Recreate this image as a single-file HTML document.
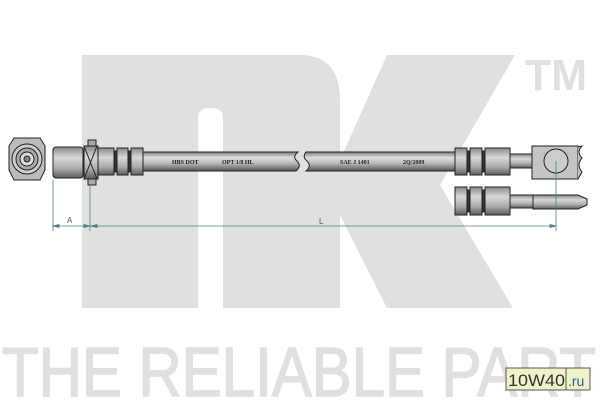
<!DOCTYPE html>
<html><head><style>
html,body{margin:0;padding:0;background:#fff;width:600px;height:400px;overflow:hidden}
svg{display:block}
</style></head><body>
<svg width="600" height="400" viewBox="0 0 600 400" xmlns="http://www.w3.org/2000/svg">
<defs>
<linearGradient id="g" x1="0" y1="0" x2="0" y2="1">
<stop offset="0" stop-color="#7a7a7a"/><stop offset="0.3" stop-color="#dedede"/><stop offset="0.6" stop-color="#b8b8b8"/><stop offset="1" stop-color="#555"/>
</linearGradient>
<linearGradient id="h" x1="0" y1="0" x2="0" y2="1">
<stop offset="0" stop-color="#8a8a8a"/><stop offset="0.35" stop-color="#d8d8d8"/><stop offset="0.7" stop-color="#aaa"/><stop offset="1" stop-color="#5a5a5a"/>
</linearGradient>
</defs>
<g fill="#e0e0e0">
<path d="M82,55 H300 Q340,55 340,100 V308 H223 V118 Q223,108 210,108 Q198,108 198,118 V308 H82 Z"/>
<polygon points="387,55 515,55 440,185 513,308 387,308 340,215 340,160"/>
<text x="525" y="90" font-family="Liberation Sans, sans-serif" font-weight="bold" font-size="44" textLength="62" lengthAdjust="spacingAndGlyphs">TM</text>
<text x="2" y="396" font-family="Liberation Sans, sans-serif" font-size="70" stroke="#e0e0e0" stroke-width="1.5" textLength="594" lengthAdjust="spacingAndGlyphs">THE RELIABLE PART</text>
</g>
<g stroke="#222" stroke-width="1">
<path d="M14,138 H40 L45,146 V170 L40,180 H14 L9,170 V146 Z" fill="#bbb"/>
<circle cx="27" cy="159" r="15" fill="#ccc"/>
<circle cx="27" cy="159" r="11" fill="#aaa"/>
<circle cx="27" cy="159" r="7" fill="#ddd"/>
<circle cx="27" cy="159" r="3" fill="#888"/>
</g>
<g stroke="#222" stroke-width="1">
<rect x="53" y="147" width="30" height="31" rx="3" fill="url(#h)"/>
<rect x="88" y="140" width="8" height="6" fill="#aaa"/>
<rect x="88" y="179" width="8" height="6" fill="#aaa"/>
<rect x="84" y="146" width="14" height="33" fill="url(#h)"/>
<path d="M84,146 L97,179 M97,146 L84,179" fill="none"/>
<rect x="98" y="148" width="16" height="27" fill="url(#h)"/>
<rect x="114" y="151" width="3" height="21" fill="#333"/>
<rect x="117" y="148" width="11" height="27" fill="url(#h)"/>
<rect x="128" y="151" width="3" height="21" fill="#333"/>
<rect x="131" y="148" width="12" height="27" fill="url(#h)"/>
</g>
<path d="M143,152 H298 Q292,157 297,161 Q302,166 296,171 H143 Z" fill="url(#g)" stroke="#222"/>
<path d="M306,152 H456 V171 H306 Q312,166 307,161 Q302,157 306,152 Z" fill="url(#g)" stroke="#222"/>
<g font-family="Liberation Serif, serif" font-weight="bold" font-size="6" fill="#222">
<text x="172" y="164">HBS DOT</text>
<text x="222" y="164">OPT 1/8 HL</text>
<text x="340" y="164">SAE J 1401</text>
<text x="403" y="164">2Q/2009</text>
</g>
<g stroke="#222" stroke-width="1">
<rect x="455" y="148" width="12" height="27" fill="url(#h)"/>
<rect x="467" y="151" width="3" height="21" fill="#333"/>
<rect x="470" y="148" width="12" height="27" fill="url(#h)"/>
<rect x="482" y="151" width="3" height="21" fill="#333"/>
<rect x="485" y="148" width="25" height="27" fill="url(#h)"/>
<rect x="510" y="154" width="22" height="14" fill="url(#h)"/>
<rect x="532" y="146" width="46" height="33" fill="#c4c4c4"/>
<circle cx="556" cy="161" r="12" fill="#ccc"/>
<path d="M578,147 L582,146 Q576,152 582,158 Q576,165 582,172 L578,179" fill="#c4c4c4"/>
</g>
<g stroke="#222" stroke-width="1">
<rect x="455" y="187" width="12" height="28" fill="url(#h)"/>
<rect x="467" y="190" width="3" height="22" fill="#333"/>
<rect x="470" y="187" width="12" height="28" fill="url(#h)"/>
<rect x="482" y="190" width="3" height="22" fill="#333"/>
<rect x="485" y="187" width="25" height="28" fill="url(#h)"/>
<rect x="510" y="195" width="23" height="13" fill="url(#h)"/>
<path d="M533,195 H578 L587,199 V205 L578,209 H533 Z" fill="url(#h)"/>
</g>
<g stroke="#4d7f84" stroke-width="0.8" fill="#4d7f84">
<line x1="53" y1="180" x2="53" y2="231"/>
<line x1="90" y1="185" x2="90" y2="231"/>
<line x1="556" y1="161" x2="556" y2="231"/>
<line x1="52" y1="226" x2="556" y2="226"/>
<polygon points="53,226 59,224.5 59,227.5"/>
<polygon points="90,226 84,224.5 84,227.5"/>
<polygon points="91,226 97,224.5 97,227.5"/>
<polygon points="556,226 550,224.5 550,227.5"/>
</g>
<g font-family="Liberation Sans, sans-serif" font-size="8" fill="#556">
<text x="67" y="223">A</text>
<text x="319" y="224">L</text>
</g>
<rect x="506" y="368" width="84" height="22" fill="#f2f2c8" stroke="#555"/>
<line x1="566" y1="368" x2="566" y2="390" stroke="#555"/>
<text x="508" y="386" font-family="Liberation Sans, sans-serif" font-size="17" fill="#333" textLength="57" lengthAdjust="spacingAndGlyphs">10W40</text>
<text x="568" y="386" font-family="Liberation Sans, sans-serif" font-size="14" fill="#2a5a9a">.ru</text>
</svg>
</body></html>
